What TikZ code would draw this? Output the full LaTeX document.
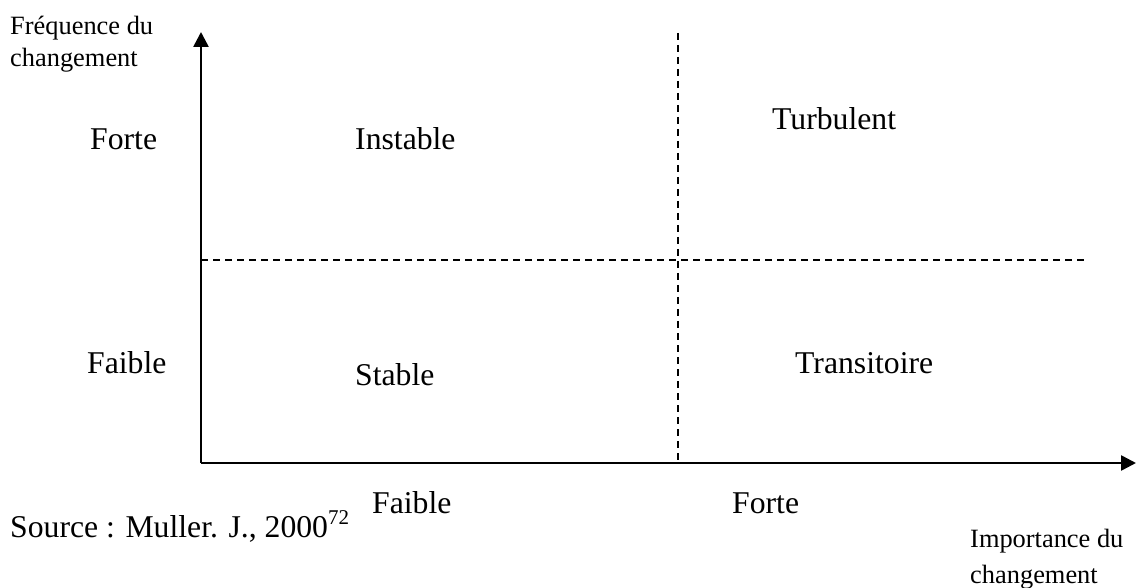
\documentclass[tikz,border=0pt]{standalone}
\usepackage{fontspec}
\setmainfont{Liberation Serif}
\usetikzlibrary{arrows.meta}
\begin{document}
\begin{tikzpicture}[x=1pt,y=-1pt,
  axis/.style={line width=2.6pt,-{Triangle[length=15pt,width=15pt]}},
  divider/.style={line width=1.5pt,dash pattern=on 7pt off 5pt},
  big/.style={inner sep=0pt,anchor=base west,font=\fontsize{31.7}{38}\selectfont},
  small/.style={inner sep=0pt,anchor=base west,align=left}]
  \useasboundingbox (0,0) rectangle (1136,588);

  % axes
  \coordinate (origin) at (201,463);
  \coordinate (ytop) at (201,32);
  \coordinate (xend) at (1136,463);
  \draw[axis] (origin) -- (ytop);
  \draw[axis] (origin) -- (xend);

  % quadrant dividers
  \coordinate (hl) at (201,260);
  \coordinate (hr) at (1086,260);
  \coordinate (vt) at (678,33);
  \coordinate (vb) at (678,463);
  \draw[divider] (hl) -- (hr);
  \draw[divider] (vt) -- (vb);

  % axis titles (base anchor sits on the last line)
  \node[small,font=\fontsize{26.4}{32}\selectfont] (ytitle) at (10,67) {Fréquence du\\changement};
  \node[small,font=\fontsize{26.4}{36}\selectfont] (xtitle) at (970,583) {Importance du\\changement};

  % vertical scale
  \node[big] (yhigh) at (90,150) {Forte};
  \node[big] (ylow) at (87,373) {Faible};

  % horizontal scale
  \node[big] (xlow) at (372,513) {Faible};
  \node[big] (xhigh) at (732,513) {Forte};

  % quadrants
  \node[big] (q1) at (355,150) {Instable};
  \node[big] (q2) at (772,130) {Turbulent};
  \node[big] (q3) at (355,385) {Stable};
  \node[big] (q4) at (795,373) {Transitoire};

  % source
  \node[big] (src) at (10,537) {Source : Muller. J., 2000\raisebox{13pt}{\fontsize{21}{22}\selectfont 72}};
\end{tikzpicture}
\end{document}
